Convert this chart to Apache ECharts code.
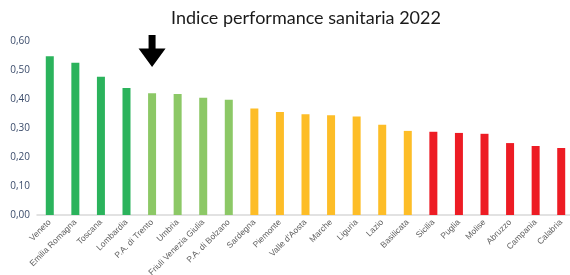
<!DOCTYPE html>
<html>
<head>
<meta charset="utf-8">
<script src="https://cdn.jsdelivr.net/npm/echarts@6/dist/echarts.min.js"></script>
<style>
  html, body { margin: 0; padding: 0; background: #fff; }
  #chart { width: 570px; height: 275px; }
</style>
</head>
<body>
<div id="chart"></div>
<script>
// regioni in ordine di punteggio
const regioni = [
  "Veneto", "Emilia Romagna", "Toscana", "Lombardia", "P.A. di Trento",
  "Umbria", "Friuli Venezia Giulia", "P.A. di Bolzano", "Sardegna", "Piemonte",
  "Valle d'Aosta", "Marche", "Liguria", "Lazio", "Basilicata",
  "Sicilia", "Puglia", "Molise", "Abruzzo", "Campania", "Calabria"
];
const punteggi = [
  0.547, 0.525, 0.477, 0.438, 0.420,
  0.417, 0.404, 0.397, 0.367, 0.355,
  0.347, 0.344, 0.340, 0.311, 0.290,
  0.287, 0.283, 0.280, 0.248, 0.238, 0.231
];
// fascia di colore per ogni regione (0 = verde scuro ... 3 = rosso)
const fasce = [0, 0, 0, 0, 1, 1, 1, 1, 2, 2, 2, 2, 2, 2, 2, 3, 3, 3, 3, 3, 3];
const coloriFasce = ["#2bb35c", "#8cc866", "#fdbd27", "#ed1c24"];
const evidenziata = "P.A. di Trento";

const chart = echarts.init(document.getElementById("chart"));

const option = {
  animation: false,
  title: {
    text: "Indice performance sanitaria 2022",
    left: 301,
    textAlign: "center",
    top: 4,
    textStyle: {
      fontFamily: "Lato",
      fontWeight: "normal",
      fontSize: 18,
      color: "#1a1a1a"
    }
  },
  grid: {
    left: 37,
    top: 41,
    width: 537,
    height: 174,
    outerBoundsMode: "none"
  },
  xAxis: {
    type: "category",
    data: regioni,
    axisLine: { lineStyle: { color: "#d9d9d9", width: 1.5 } },
    axisTick: { show: false },
    axisLabel: {
      rotate: 45,
      interval: 0,
      margin: 6,
      fontFamily: "Liberation Sans",
      fontSize: 8.5,
      color: "#5f5f5f"
    }
  },
  yAxis: {
    type: "value",
    min: 0,
    max: 0.6,
    interval: 0.1,
    splitLine: { show: false },
    axisLine: { show: false },
    axisTick: { show: false },
    axisLabel: {
      margin: 7,
      fontFamily: "Open Sans",
      fontSize: 10,
      color: "#3b4c6b",
      formatter: v => v.toFixed(2).replace(".", ",")
    }
  },
  series: [{
    type: "bar",
    barWidth: 8,
    data: punteggi.map((v, i) => ({
      value: v,
      itemStyle: { color: coloriFasce[fasce[i]] }
    }))
  }]
};
chart.setOption(option);

// freccia nera sopra la regione evidenziata
const px = chart.convertToPixel({ gridIndex: 0 }, [evidenziata, 0])[0];
chart.setOption({
  graphic: [{
    type: "polygon",
    shape: {
      points: [
        [px - 3.5, 35], [px + 3.5, 35], [px + 3.5, 48.5], [px + 13.5, 48.5],
        [px, 67], [px - 13.5, 48.5], [px - 3.5, 48.5]
      ]
    },
    style: { fill: "#000" }
  }]
});
</script>
</body>
</html>
